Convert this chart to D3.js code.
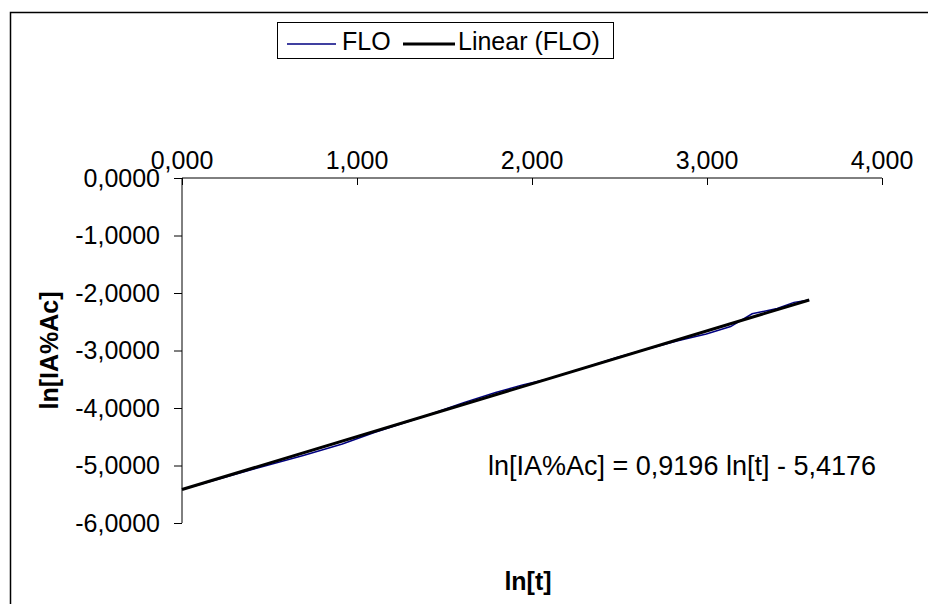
<!DOCTYPE html>
<html><head><meta charset="utf-8">
<script src="https://cdn.jsdelivr.net/npm/d3@7"></script>
<style>
html,body{margin:0;padding:0;background:#fff;}
text{font-family:"Liberation Sans",Arial,sans-serif;}
</style></head>
<body>
<script>
// Data
const lnT = [0.000, 0.405, 0.693, 0.916, 1.099, 1.386, 1.609, 1.792, 1.946, 2.079, 2.303, 2.485, 2.639, 2.833, 2.996, 3.135, 3.258, 3.401, 3.497, 3.584];
const lnIA = [-5.418, -5.065, -4.825, -4.625, -4.425, -4.143, -3.907, -3.730, -3.598, -3.506, -3.300, -3.120, -2.991, -2.832, -2.713, -2.583, -2.361, -2.270, -2.163, -2.122];
const slope = 0.9196, intercept = -5.4176;
const xTicks = [0, 1, 2, 3, 4];
const yTicks = [0, -1, -2, -3, -4, -5, -6];
const seriesNames = ["FLO", "Linear (FLO)"];
const xTitle = "ln[t]";
const yTitle = "ln[IA%Ac]";
const eqText = "ln[IA%Ac] = 0,9196 ln[t] - 5,4176";

const W = 928, H = 604;
const svg = d3.select("body").append("svg").attr("width", W).attr("height", H);

// outer chart border (extends past right/bottom edges)
svg.append("rect").attr("x", 10.5).attr("y", 12.5).attr("width", 940).attr("height", 620)
  .attr("fill", "none").attr("stroke", "#000").attr("stroke-width", 1.5);

const x = d3.scaleLinear().domain([0, 4]).range([182, 882]);
const y = d3.scaleLinear().domain([-6, 0]).range([523, 178]);

const fmtX = v => d3.format(".3f")(v).replace(".", ",");
const fmtY = v => d3.format(".4f")(v).replace(".", ",").replace("−", "-");

const fs = 25;
// top x axis
const gx = svg.append("g").attr("transform", `translate(0,${y(0)})`)
  .call(d3.axisBottom(x).tickValues(xTicks).tickSize(7).tickFormat(""));
gx.selectAll("path,line").attr("stroke", "#000").attr("stroke-width", 1);
gx.select(".domain").attr("d", `M${x(0)},0H${x(4)}`);
svg.append("g").selectAll("text").data(xTicks).join("text")
  .attr("x", d => x(d)).attr("y", y(0) - 9)
  .attr("text-anchor", "middle").attr("font-size", fs).attr("fill", "#000")
  .text(fmtX);

// left y axis
const gy = svg.append("g").attr("transform", `translate(${x(0)},0)`)
  .call(d3.axisLeft(y).tickValues(yTicks).tickSize(8).tickFormat(""));
gy.selectAll("path,line").attr("stroke", "#000").attr("stroke-width", 1);
gy.select(".domain").attr("d", `M0,${y(-6)}V${y(0)}`);
svg.append("g").selectAll("text").data(yTicks).join("text")
  .attr("x", x(0) - 22).attr("y", d => y(d)).attr("dy", "0.35em")
  .attr("text-anchor", "end").attr("font-size", fs).attr("fill", "#000")
  .text(fmtY);

// series
const pts = lnT.map((t, i) => [t, lnIA[i]]);
const line = d3.line().x(d => x(d[0])).y(d => y(d[1]));
svg.append("path").attr("d", line(pts)).attr("fill", "none")
  .attr("stroke", "#000080").attr("stroke-width", 1.5);
const x0 = lnT[0], x1 = lnT[lnT.length - 1];
svg.append("path").attr("d", line([[x0, slope * x0 + intercept], [x1, slope * x1 + intercept]]))
  .attr("fill", "none").attr("stroke", "#000").attr("stroke-width", 3);

// equation
svg.append("text").attr("x", 876).attr("y", 475).attr("text-anchor", "end")
  .attr("font-size", 27).attr("fill", "#000").text(eqText);

// titles
svg.append("text").attr("x", 528).attr("y", 590).attr("text-anchor", "middle")
  .attr("font-size", fs).attr("font-weight", "bold").text(xTitle);
svg.append("text").attr("transform", `translate(58,${y(-3)}) rotate(-90)`)
  .attr("text-anchor", "middle").attr("font-size", fs).attr("font-weight", "bold").text(yTitle);

// legend
const lg = svg.append("g");
lg.append("rect").attr("x", 277.5).attr("y", 22.5).attr("width", 336).attr("height", 36)
  .attr("fill", "#fff").attr("stroke", "#000").attr("stroke-width", 1);
lg.append("line").attr("x1", 287).attr("x2", 336).attr("y1", 44).attr("y2", 44)
  .attr("stroke", "#000080").attr("stroke-width", 1.5);
lg.append("text").attr("x", 342).attr("y", 41).attr("dy", "0.35em").attr("font-size", fs).text(seriesNames[0]);
lg.append("line").attr("x1", 403).attr("x2", 455).attr("y1", 44).attr("y2", 44)
  .attr("stroke", "#000").attr("stroke-width", 3);
lg.append("text").attr("x", 458).attr("y", 41).attr("dy", "0.35em").attr("font-size", fs).text(seriesNames[1]);
</script>
</body></html>
